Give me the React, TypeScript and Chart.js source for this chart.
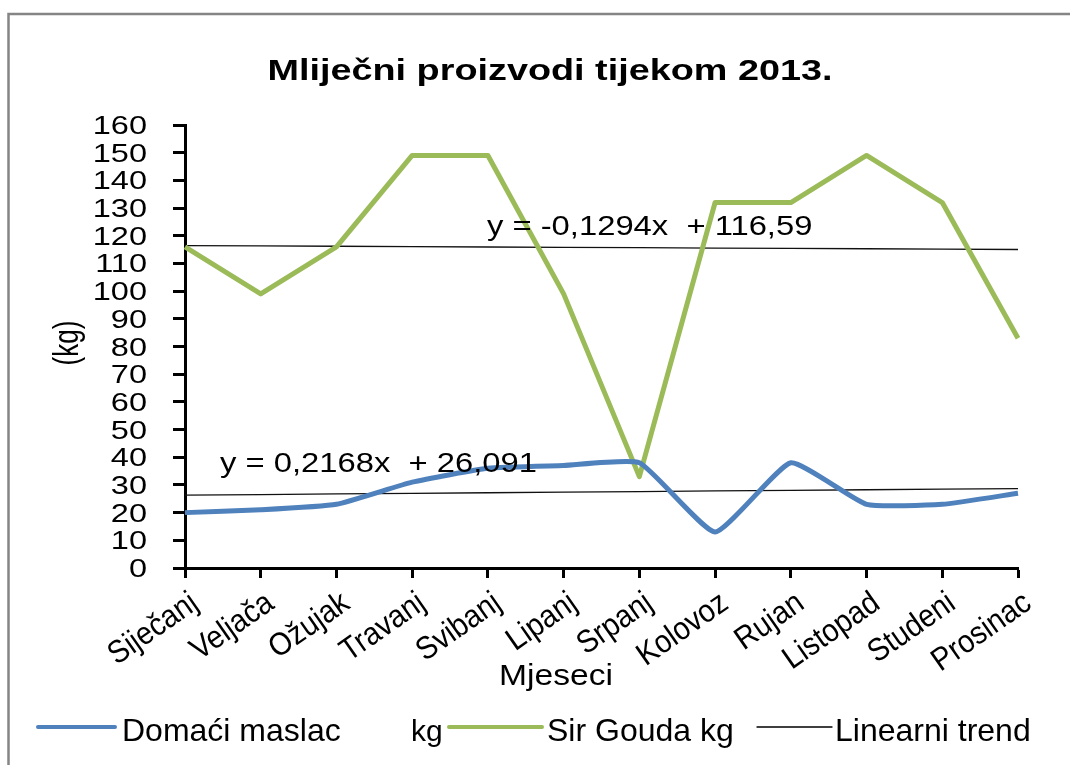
import React, { useEffect, useRef } from "react";
import { Chart, registerables } from "chart.js";

Chart.register(...registerables);

// ---- data ----
const months = [
  "Siječanj", "Veljača", "Ožujak", "Travanj", "Svibanj", "Lipanj",
  "Srpanj", "Kolovoz", "Rujan", "Listopad", "Studeni", "Prosinac",
];
const maslac = [20, 21, 23, 31, 36, 37, 38, 13, 38, 23, 23, 27];
const gouda = [116, 99, 116, 149, 149, 99, 33, 132, 132, 149, 132, 83];

const titleText = "Mliječni proizvodi tijekom 2013.";
const yTitle = "(kg)";
const xTitle = "Mjeseci";
const legendMaslac = ["Domaći maslac", "kg"];
const legendGouda = "Sir Gouda kg";
const legendTrend = "Linearni trend";
const eqGouda = "y = -0,1294x  + 116,59";
const eqMaslac = "y = 0,2168x  + 26,091";

const BLUE = "#4F81BD";
const GREEN = "#9BBB59";
const FONT = '"Liberation Sans", Arial, sans-serif';

// least-squares linear trend (x = 1..n), as Excel computes it
function linearTrend(ys: number[]): number[] {
  const n = ys.length;
  const xs = ys.map((_, i) => i + 1);
  const mx = xs.reduce((a, b) => a + b, 0) / n;
  const my = ys.reduce((a, b) => a + b, 0) / n;
  let sxy = 0, sxx = 0;
  for (let i = 0; i < n; i++) {
    sxy += (xs[i] - mx) * (ys[i] - my);
    sxx += (xs[i] - mx) * (xs[i] - mx);
  }
  const b = sxy / sxx;
  const a = my - b * mx;
  return xs.map((x) => a + b * x);
}

type TOpts = {
  size: number;
  bold?: boolean;
  sx?: number;
  sy?: number;
  align?: CanvasTextAlign;
  baseline?: CanvasTextBaseline;
  rot?: number;
};

function drawText(ctx: CanvasRenderingContext2D, text: string, x: number, y: number, o: TOpts) {
  ctx.save();
  ctx.translate(x, y);
  if (o.rot) ctx.rotate(o.rot);
  ctx.scale(o.sx ?? 1, o.sy ?? 1);
  ctx.font = `${o.bold ? "bold " : ""}${o.size}px ${FONT}`;
  ctx.textAlign = o.align ?? "left";
  ctx.textBaseline = o.baseline ?? "alphabetic";
  ctx.fillStyle = "#000";
  ctx.fillText(text, 0, 0);
  ctx.restore();
}

function legendLine(ctx: CanvasRenderingContext2D, x1: number, x2: number, y: number, color: string, w: number) {
  ctx.save();
  ctx.strokeStyle = color;
  ctx.lineWidth = w;
  ctx.lineCap = "round";
  ctx.beginPath();
  ctx.moveTo(x1, y);
  ctx.lineTo(x2, y);
  ctx.stroke();
  ctx.restore();
}

const decor = {
  id: "decor",
  beforeDraw(chart: any) {
    const ctx: CanvasRenderingContext2D = chart.ctx;
    ctx.save();
    ctx.fillStyle = "#fff";
    ctx.fillRect(0, 0, chart.width, chart.height);
    ctx.strokeStyle = "#858585";
    ctx.lineWidth = 2.5;
    ctx.beginPath();
    ctx.moveTo(8.5, chart.height + 10);
    ctx.lineTo(8.5, 14);
    ctx.lineTo(chart.width + 10, 14);
    ctx.stroke();
    ctx.restore();
  },
  afterDraw(chart: any) {
    const ctx: CanvasRenderingContext2D = chart.ctx;
    const xs = chart.scales.x;
    const ys = chart.scales.y;

    // title
    drawText(ctx, titleText, 550, 80, { size: 30, bold: true, sx: 1.26, align: "center" });

    // y tick labels
    ys.ticks.forEach((t: any) => {
      const py = ys.getPixelForValue(t.value);
      drawText(ctx, String(t.value), 147, py + 9, { size: 25, sx: 1.3, align: "right" });
    });

    // x tick labels (rotated)
    months.forEach((m, i) => {
      const px = xs.getPixelForValue(i);
      drawText(ctx, m, px + 10, 600, {
        size: 29,
        sy: 1.1,
        rot: (-35 * Math.PI) / 180,
        align: "right",
        baseline: "middle",
      });
    });

    // axis titles
    drawText(ctx, yTitle, 68, 343, { size: 26, sy: 1.35, rot: -Math.PI / 2, align: "center", baseline: "middle" });
    drawText(ctx, xTitle, 556, 685, { size: 28, sx: 1.2, sy: 1.05, align: "center" });

    // trend equations
    drawText(ctx, eqGouda, 487, 235, { size: 28, sx: 1.17 });
    drawText(ctx, eqMaslac, 220, 472, { size: 28, sx: 1.17 });

    // legend
    const ly = 727;
    legendLine(ctx, 38, 115, ly, BLUE, 4);
    drawText(ctx, legendMaslac[0], 122, 741, { size: 32 });
    drawText(ctx, legendMaslac[1], 411, 741, { size: 30 });
    legendLine(ctx, 449, 542, ly, GREEN, 4);
    drawText(ctx, legendGouda, 547, 741, { size: 32 });
    legendLine(ctx, 757, 832, ly, "#000", 1.3);
    drawText(ctx, legendTrend, 835, 741, { size: 32 });
  },
};

export default function App() {
  const ref = useRef<HTMLCanvasElement | null>(null);

  useEffect(() => {
    if (!ref.current) return;
    const chart = new Chart(ref.current, {
      type: "line",
      data: {
        labels: months,
        datasets: [
          {
            label: "Domaći maslac kg",
            data: maslac,
            borderColor: BLUE,
            borderWidth: 5,
            pointRadius: 0,
            tension: 0.15,
            borderJoinStyle: "round",
            fill: false,
          },
          {
            label: "Sir Gouda kg",
            data: gouda,
            borderColor: GREEN,
            borderWidth: 5,
            pointRadius: 0,
            tension: 0,
            borderJoinStyle: "round",
            fill: false,
          },
          {
            label: "Linearni trend (maslac)",
            data: linearTrend(maslac),
            borderColor: "#111",
            borderWidth: 1.3,
            pointRadius: 0,
            tension: 0,
            fill: false,
          },
          {
            label: "Linearni trend (gouda)",
            data: linearTrend(gouda),
            borderColor: "#111",
            borderWidth: 1.3,
            pointRadius: 0,
            tension: 0,
            fill: false,
          },
        ],
      },
      options: {
        responsive: false,
        animation: false,
        layout: { padding: { left: 0, top: 125, right: 52, bottom: 0 } },
        plugins: {
          legend: { display: false },
          title: { display: false },
          tooltip: { enabled: false },
        },
        scales: {
          x: {
            type: "category",
            offset: false,
            ticks: { display: false },
            grid: {
              display: true,
              drawOnChartArea: false,
              drawTicks: true,
              tickLength: 10,
              tickWidth: 3,
              tickColor: "#000",
            },
            border: { display: true, color: "#000", width: 3 },
            afterFit: (s: any) => {
              s.height = 197;
            },
          },
          y: {
            min: 0,
            max: 160,
            ticks: { display: false, stepSize: 10 },
            grid: {
              display: true,
              drawOnChartArea: false,
              drawTicks: true,
              tickLength: 12,
              tickWidth: 3,
              tickColor: "#000",
            },
            border: { display: true, color: "#000", width: 3 },
            afterFit: (s: any) => {
              s.width = 185;
            },
          },
        },
      },
      plugins: [decor],
    });
    return () => chart.destroy();
  }, []);

  return (
    <div style={{ position: "absolute", left: 0, top: 0, width: 1070, height: 765, overflow: "hidden" }}>
      <canvas ref={ref} width={1070} height={765} style={{ display: "block" }} />
    </div>
  );
}
